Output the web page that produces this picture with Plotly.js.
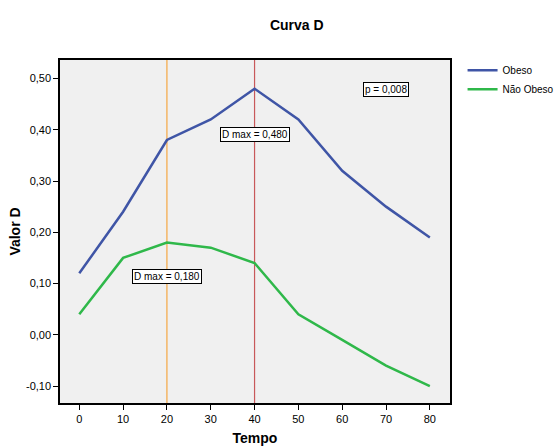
<!DOCTYPE html>
<html><head><meta charset="utf-8">
<script src="https://cdn.plot.ly/plotly-3.0.1.min.js"></script>
<style>html,body{margin:0;padding:0;background:#fff}#c{width:560px;height:446px}</style>
</head><body><div id="c"></div>
<script>
const tempo = [0, 10, 20, 30, 40, 50, 60, 70, 80];
const obeso = [0.12, 0.24, 0.38, 0.42, 0.48, 0.42, 0.32, 0.25, 0.19];
const naoObeso = [0.04, 0.15, 0.18, 0.17, 0.14, 0.04, -0.01, -0.06, -0.10];
const yTicks = [-0.10, 0.00, 0.10, 0.20, 0.30, 0.40, 0.50];
const yTickText = ["-0,10", "0,00", "0,10", "0,20", "0,30", "0,40", "0,50"];
const xTicks = [0, 10, 20, 30, 40, 50, 60, 70, 80];
const dmaxX = [20, 40];
const dmaxColors = ["#f5a742", "#c8585a"];
const labels = [
  {text: "D max = 0,480", x: 40, y: 0.391},
  {text: "D max = 0,180", x: 20, y: 0.1135},
  {text: "p = 0,008", x: 70.1, y: 0.478}
];

const font = "Liberation Sans, Arial, sans-serif";
const traces = [
  {x: tempo, y: obeso, name: "Obeso", mode: "lines", line: {color: "#3f55a6", width: 2.5}},
  {x: tempo, y: naoObeso, name: "Não Obeso", mode: "lines", line: {color: "#2fb84a", width: 2.5}}
];
const shapes = dmaxX.map((v, i) => ({type: "line", xref: "x", yref: "paper", x0: v, x1: v, y0: 0, y1: 1,
  line: {color: dmaxColors[i], width: 1.2}, layer: "below"}));
const annotations = labels.map(l => ({x: l.x, y: l.y, xref: "x", yref: "y", text: l.text, showarrow: false,
  bgcolor: "#ffffff", bordercolor: "#000000", borderwidth: 1, borderpad: 1,
  font: {family: font, size: 10, color: "#000"}}));

const layout = {
  width: 560, height: 446,
  margin: {l: 60, r: 110, t: 60, b: 43, autoexpand: false},
  paper_bgcolor: "#ffffff", plot_bgcolor: "#f0f0f0",
  font: {family: font, size: 11, color: "#000"},
  title: {text: "<b>Curva D</b>", x: 0.53, xref: "container", y: 0.955, yref: "container", font: {size: 14, family: font}},
  xaxis: {range: [-4.4, 84.6], tickvals: xTicks, ticks: "outside", ticklen: 5, tickcolor: "#000",
    showline: true, mirror: true, linecolor: "#000", linewidth: 1.5, showgrid: false, zeroline: false,
    title: {text: "<b>Tempo</b>", font: {size: 14}, standoff: 12}, tickfont: {size: 11}},
  yaxis: {range: [-0.133, 0.536], tickvals: yTicks, ticktext: yTickText, ticks: "outside", ticklen: 5, tickcolor: "#000",
    showline: true, mirror: true, linecolor: "#000", linewidth: 1.5, showgrid: false, zeroline: false,
    title: {text: "<b>Valor D</b>", font: {size: 14}, standoff: 2}, tickfont: {size: 11}},
  legend: {xref: "container", yref: "container", x: 0.826, y: 0.875, xanchor: "left", yanchor: "top",
    font: {size: 10}, bgcolor: "rgba(0,0,0,0)", tracegroupgap: 0, itemwidth: 30},
  shapes: shapes,
  annotations: annotations
};
Plotly.newPlot("c", traces, layout, {displayModeBar: false});
</script></body></html>
